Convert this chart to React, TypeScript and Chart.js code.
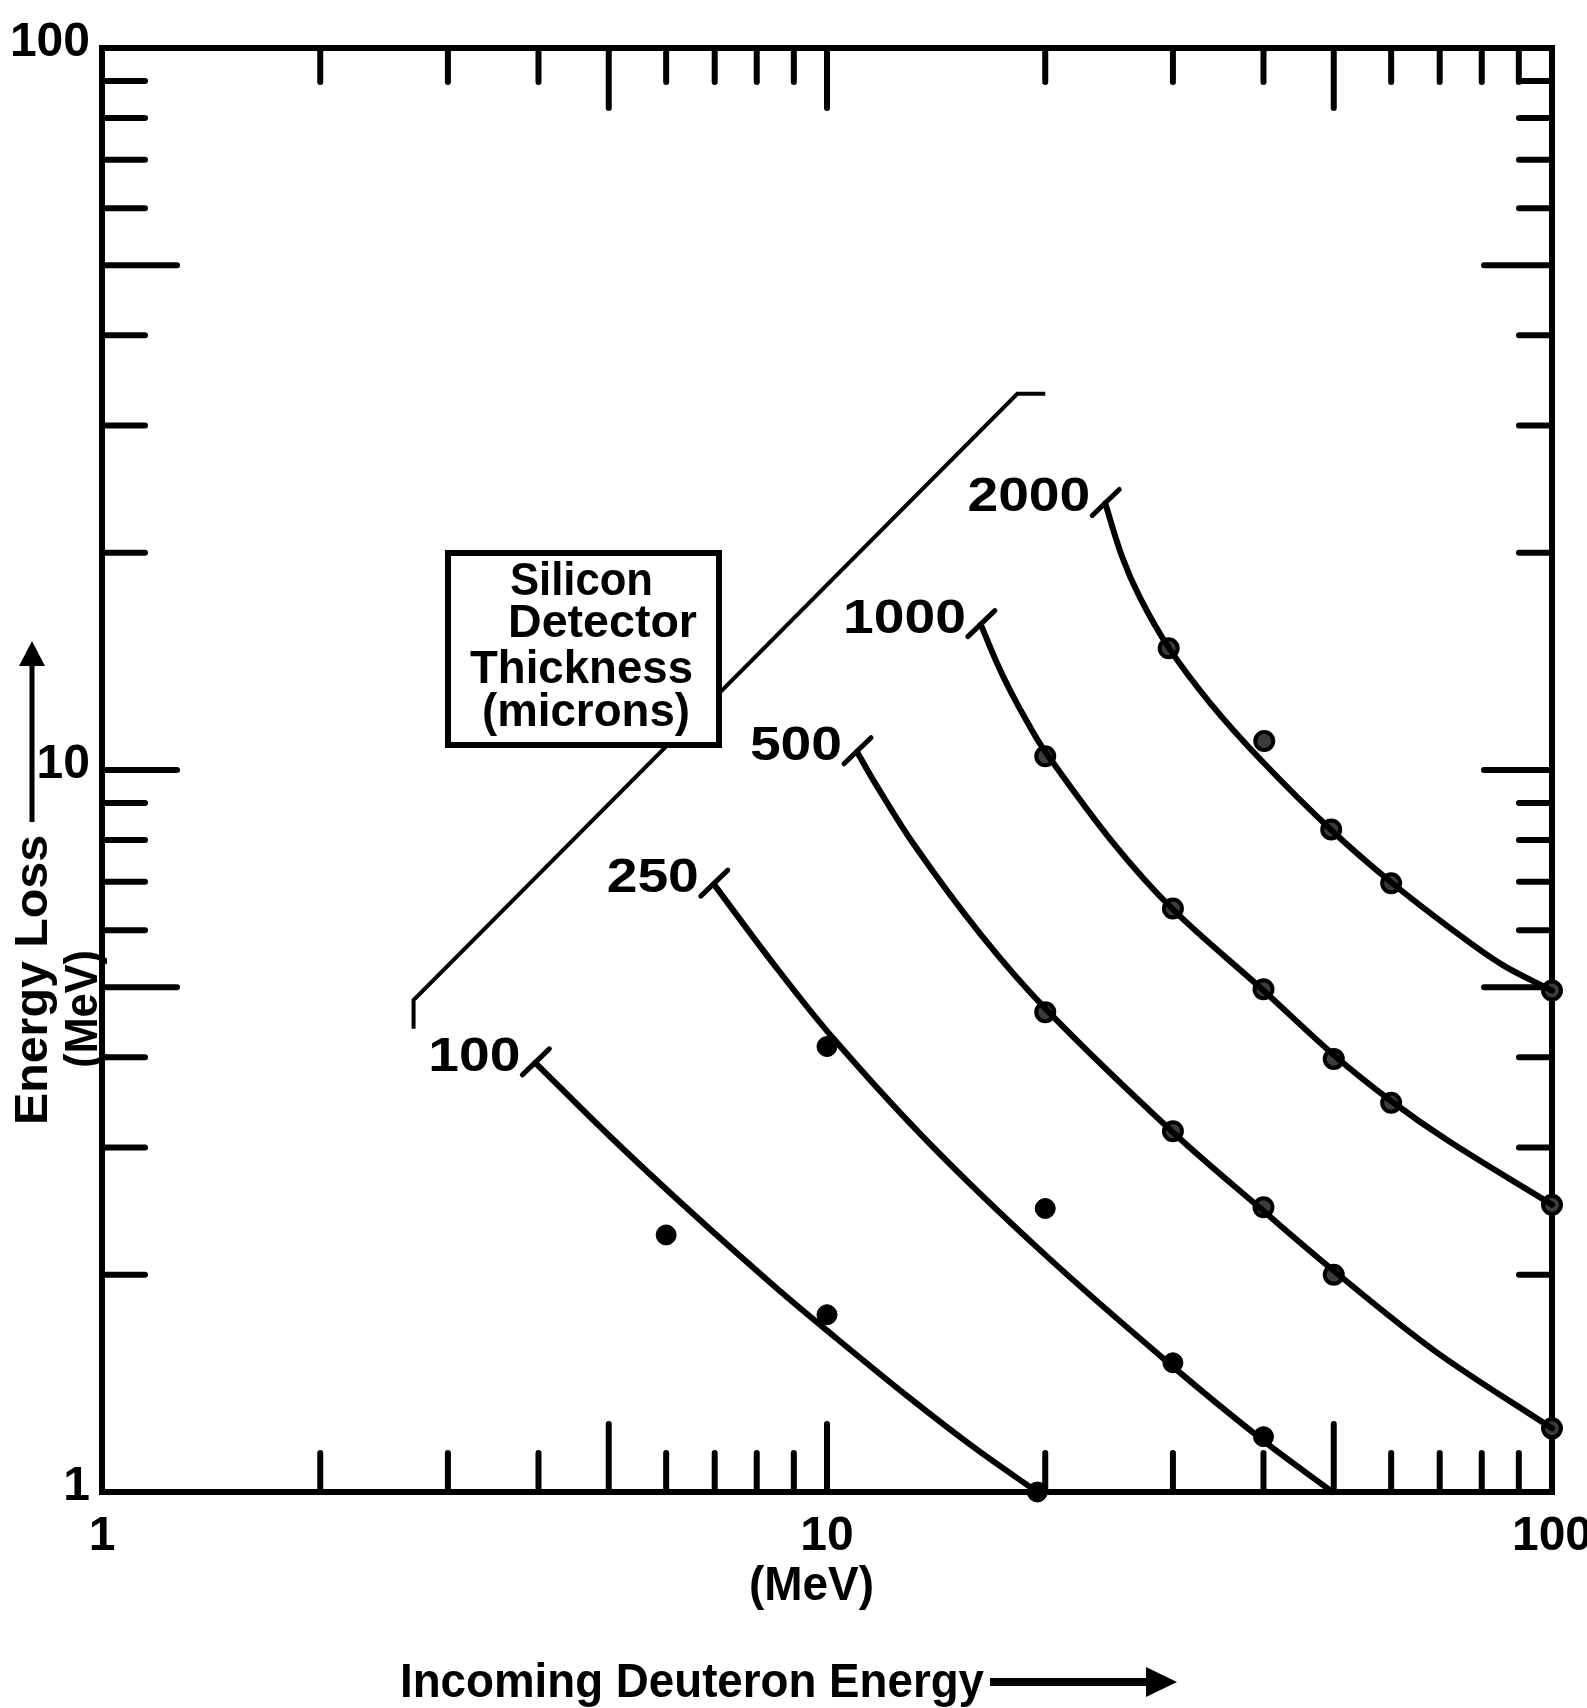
import React, { useEffect, useRef } from 'react';
import { Chart, registerables } from 'chart.js';

Chart.register(...registerables);

// ---- Data (incoming deuteron energy in MeV vs. energy loss in MeV) ----
const curve100X = [3.96, 5.0, 6.5, 8.5, 10.1, 13.0, 16.0, 19.5];
const curve100Y = [3.93, 3.12, 2.44, 1.92, 1.66, 1.35, 1.15, 1.0];
const curve250X = [6.98, 8.4, 10.2, 13.8, 20.0, 29.8, 40.1, 49.8];
const curve250Y = [6.95, 5.42, 4.25, 3.05, 2.13, 1.5, 1.175, 1.0];
const curve500X = [11.0, 11.6, 13.15, 16.3, 20.1, 30.0, 40.0, 50.0, 68.8, 100];
const curve500Y = [10.6, 9.66, 7.91, 5.915, 4.65, 3.15, 2.45, 2.025, 1.57, 1.225];
const curve1000X = [16.3, 17.1, 17.9, 19.0, 20.0, 24.7, 30.0, 40.0, 50.0, 60.0, 72.1, 100];
const curve1000Y = [15.9, 14.17, 12.87, 11.53, 10.6, 7.97, 6.41, 4.95, 4.03, 3.48, 3.06, 2.5];
const curve2000X = [24.2, 25.5, 27.0, 29.6, 33.7, 39.8, 49.6, 60.0, 72.2, 85.2, 100];
const curve2000Y = [23.4, 19.8, 17.35, 14.77, 12.41, 10.29, 8.26, 6.99, 6.05, 5.38, 4.95];

const dots100X = [6.0, 10.0, 19.5];
const dots100Y = [2.27, 1.76, 1.0];
const dots250X = [10.0, 20.0, 30.0, 40.0];
const dots250Y = [4.14, 2.47, 1.51, 1.193];
const dots500X = [20.0, 30.0, 40.0, 50.0, 100];
const dots500Y = [4.62, 3.16, 2.48, 2.0, 1.225];
const dots1000X = [20.0, 30.0, 40.0, 50.0, 60.0, 100];
const dots1000Y = [10.45, 6.43, 4.97, 3.98, 3.46, 2.5];
const dots2000X = [29.6, 40.1, 49.6, 60.0, 100];
const dots2000Y = [14.74, 10.97, 8.27, 6.97, 4.95];

// stopping boundary line
const boundaryX = [2.69, 2.69, 18.3, 20.0];
const boundaryY = [4.38, 4.8, 33.2, 33.2];

const thicknessLabels = ['100', '250', '500', '1000', '2000'];

const axisTickValues = [1, 2, 3, 4, 5, 6, 7, 8, 9, 10, 20, 30, 40, 50, 60, 70, 80, 90, 100];
const longTickValues = [5, 10, 50];
const labeledTickValues = [1, 10, 100];

const xTitle = 'Incoming Deuteron Energy';
const unitText = '(MeV)';
const yTitle = 'Energy Loss';
const boxLines = ['Silicon', 'Detector', 'Thickness', '(microns)'];

const FONT = '"Liberation Sans", Arial, sans-serif';

const zip = (xs: number[], ys: number[]) => xs.map((x, i) => ({ x, y: ys[i] }));

const curveSets = [
  { label: thicknessLabels[0], cx: curve100X, cy: curve100Y, dx: dots100X, dy: dots100Y, solid: true },
  { label: thicknessLabels[1], cx: curve250X, cy: curve250Y, dx: dots250X, dy: dots250Y, solid: true },
  { label: thicknessLabels[2], cx: curve500X, cy: curve500Y, dx: dots500X, dy: dots500Y, solid: false },
  { label: thicknessLabels[3], cx: curve1000X, cy: curve1000Y, dx: dots1000X, dy: dots1000Y, solid: false },
  { label: thicknessLabels[4], cx: curve2000X, cy: curve2000Y, dx: dots2000X, dy: dots2000Y, solid: false },
];

function drawText(
  ctx: CanvasRenderingContext2D,
  text: string,
  x: number,
  y: number,
  size: number,
  align: 'left' | 'right' | 'center',
  width?: number,
  scaleX?: number,
  rotate?: number
) {
  ctx.save();
  ctx.font = `bold ${size}px ${FONT}`;
  ctx.fillStyle = '#000';
  ctx.textAlign = 'left';
  ctx.textBaseline = 'alphabetic';
  const w = ctx.measureText(text).width;
  const sx = width ? width / w : scaleX ?? 1;
  ctx.translate(x, y);
  if (rotate) ctx.rotate(rotate);
  ctx.scale(sx, 1);
  const x0 = align === 'left' ? 0 : align === 'right' ? -w : -w / 2;
  ctx.fillText(text, x0, 0);
  ctx.restore();
}

const framePlugin = {
  id: 'frameTicks',
  beforeDatasetsDraw(chart: any) {
    const { ctx, chartArea } = chart;
    const xs = chart.scales.x;
    const ys = chart.scales.y;
    const { left, right, top, bottom } = chartArea;
    ctx.save();
    ctx.strokeStyle = '#000';
    ctx.lineWidth = 6;
    ctx.lineJoin = 'miter';
    ctx.strokeRect(left, top, right - left, bottom - top);
    ctx.lineCap = 'round';
    ctx.lineWidth = 6;
    for (const v of axisTickValues) {
      if (v === 1 || v === 100) continue;
      const isLong = longTickValues.includes(v);
      const px = xs.getPixelForValue(v);
      const py = ys.getPixelForValue(v);
      ctx.beginPath();
      ctx.moveTo(px, bottom);
      ctx.lineTo(px, bottom - (isLong ? 68 : 39));
      ctx.moveTo(px, top);
      ctx.lineTo(px, top + (isLong ? 60 : 34));
      ctx.moveTo(left, py);
      ctx.lineTo(left + (isLong ? 75 : 43), py);
      ctx.moveTo(right, py);
      ctx.lineTo(right - (isLong ? 68 : 33), py);
      ctx.stroke();
    }
    ctx.restore();
  },
  afterDatasetsDraw(chart: any) {
    const { ctx } = chart;
    const xs = chart.scales.x;
    const ys = chart.scales.y;
    // legend box
    ctx.save();
    ctx.fillStyle = '#fff';
    ctx.strokeStyle = '#000';
    ctx.lineWidth = 6;
    ctx.fillRect(448, 553, 271, 192);
    ctx.strokeRect(448, 553, 271, 192);
    ctx.restore();
    drawText(ctx, boxLines[0], 510, 595, 46, 'left', 143);
    drawText(ctx, boxLines[1], 508, 637, 46, 'left', 189);
    drawText(ctx, boxLines[2], 470, 683, 46, 'left', 223);
    drawText(ctx, boxLines[3], 482, 726, 46, 'left', 208);

    // curve labels and start marks
    for (const c of curveSets) {
      const sx = xs.getPixelForValue(c.cx[0]);
      const sy = ys.getPixelForValue(c.cy[0]);
      ctx.save();
      ctx.strokeStyle = '#000';
      ctx.lineWidth = 5;
      ctx.lineCap = 'round';
      ctx.beginPath();
      ctx.moveTo(sx - 13, sy + 12);
      ctx.lineTo(sx + 14, sy - 14);
      ctx.stroke();
      ctx.restore();
      drawText(ctx, c.label, sx - 15, sy + 8, 48, 'right', undefined, 1.15);
    }
  },
  afterDraw(chart: any) {
    const { ctx } = chart;
    // x-axis titles
    drawText(ctx, unitText, 749, 1600, 48, 'left', 125);
    drawText(ctx, xTitle, 400, 1697, 48, 'left', 584);
    ctx.save();
    ctx.strokeStyle = '#000';
    ctx.fillStyle = '#000';
    ctx.lineWidth = 8;
    ctx.beginPath();
    ctx.moveTo(990, 1682);
    ctx.lineTo(1152, 1682);
    ctx.stroke();
    ctx.beginPath();
    ctx.moveTo(1146, 1667);
    ctx.lineTo(1177, 1682);
    ctx.lineTo(1146, 1697);
    ctx.closePath();
    ctx.fill();
    // y-axis arrow
    ctx.lineWidth = 5;
    ctx.beginPath();
    ctx.moveTo(32, 822);
    ctx.lineTo(32, 660);
    ctx.stroke();
    ctx.beginPath();
    ctx.moveTo(32, 641);
    ctx.lineTo(19, 666);
    ctx.lineTo(45, 666);
    ctx.closePath();
    ctx.fill();
    ctx.restore();
    drawText(ctx, yTitle, 47, 1125, 47, 'left', 290, undefined, -Math.PI / 2);
    drawText(ctx, unitText, 97, 1068, 46, 'left', 118, undefined, -Math.PI / 2);
  },
};

export default function App() {
  const canvasRef = useRef<HTMLCanvasElement | null>(null);

  useEffect(() => {
    const canvas = canvasRef.current;
    if (!canvas) return;

    const datasets: any[] = [];
    datasets.push({
      label: 'boundary',
      data: zip(boundaryX, boundaryY),
      showLine: true,
      borderColor: '#000',
      borderWidth: 4,
      pointRadius: 0,
      tension: 0,
      clip: false,
    });
    for (const c of curveSets) {
      datasets.push({
        label: c.label + ' microns',
        data: zip(c.cx, c.cy),
        showLine: true,
        borderColor: '#000',
        borderWidth: 6,
        pointRadius: 0,
        tension: 0.35,
        borderCapStyle: 'round',
        borderJoinStyle: 'round',
        clip: false,
      });
    }
    for (const c of curveSets) {
      datasets.push({
        label: c.label + ' data',
        data: zip(c.dx, c.dy),
        showLine: false,
        pointRadius: c.solid ? 10 : 9,
        pointBackgroundColor: c.solid ? '#000' : '#3c3c3c',
        pointBorderColor: '#000',
        pointBorderWidth: c.solid ? 1 : 4,
        clip: false,
      });
    }

    const tickCfg = {
      autoSkip: false,
      maxRotation: 0,
      minRotation: 0,
      color: '#000',
      font: { family: FONT, size: 48, weight: 'bold' as const },
      callback: (value: any) => {
        const v = Number(value);
        return labeledTickValues.some((t) => Math.abs(t - v) < 1e-6) ? String(Math.round(v)) : '';
      },
    };

    const chart = new Chart(canvas, {
      type: 'scatter',
      data: { datasets },
      options: {
        responsive: false,
        animation: false,
        devicePixelRatio: 1,
        layout: { padding: { left: 0, top: 48, right: 35, bottom: 0 } },
        plugins: {
          legend: { display: false },
          tooltip: { enabled: false },
          title: { display: false },
        },
        scales: {
          x: {
            type: 'logarithmic',
            min: 1,
            max: 100,
            grid: { display: false, drawTicks: false },
            border: { display: false },
            afterBuildTicks: (scale: any) => {
              scale.ticks = axisTickValues.map((v) => ({ value: v }));
            },
            afterFit: (scale: any) => {
              scale.height = 216;
              scale.paddingLeft = 0;
              scale.paddingRight = 0;
              scale.paddingTop = 0;
              scale.paddingBottom = 0;
            },
            ticks: { ...tickCfg, padding: 16 },
          },
          y: {
            type: 'logarithmic',
            min: 1,
            max: 100,
            grid: { display: false, drawTicks: false },
            border: { display: false },
            afterBuildTicks: (scale: any) => {
              scale.ticks = axisTickValues.map((v) => ({ value: v }));
            },
            afterFit: (scale: any) => {
              scale.width = 102;
              scale.paddingLeft = 0;
              scale.paddingRight = 0;
              scale.paddingTop = 0;
              scale.paddingBottom = 0;
            },
            ticks: { ...tickCfg, padding: 12, labelOffset: -5 },
          },
        },
      },
      plugins: [framePlugin],
    } as any);

    return () => {
      chart.destroy();
    };
  }, []);

  return (
    <div style={{ position: 'absolute', left: 0, top: 0, width: 1587, height: 1708, background: '#fff' }}>
      <canvas ref={canvasRef} width={1587} height={1708} style={{ display: 'block', width: 1587, height: 1708 }} />
    </div>
  );
}
